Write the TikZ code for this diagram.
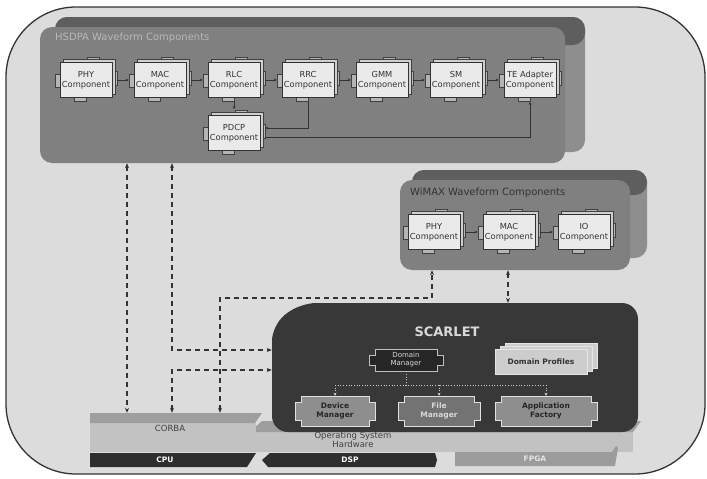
\documentclass[tikz,border=0pt]{standalone}
\usepackage{fontspec}
\setmainfont{DejaVu Sans}
\usetikzlibrary{arrows.meta}
\definecolor{cout}{HTML}{DCDCDC}
\definecolor{cwfront}{HTML}{808080}
\definecolor{cwback}{HTML}{8E8E8E}
\definecolor{cwtop}{HTML}{5E5E5E}
\definecolor{ccomp}{HTML}{EAEAEA}
\definecolor{ccompbk}{HTML}{CFCFCF}
\definecolor{ctab}{HTML}{B5B5B5}
\definecolor{cscar}{HTML}{383838}
\definecolor{cslab}{HTML}{C2C2C2}
\definecolor{cslabtop}{HTML}{9E9E9E}
\definecolor{chw}{HTML}{2E2E2E}
\definecolor{cfpga}{HTML}{9C9C9C}
\definecolor{cmgr}{HTML}{8E8E8E}
\definecolor{cprof}{HTML}{CDCDCD}
\newcommand\compbox[4]{%
  \begin{scope}[shift={(#2,#3)}]
    \filldraw[comptab] (-31,-6) rectangle (-25,7);
    \filldraw[comptab] (25,-9) rectangle (31,5);
    \filldraw[comptab] (1,-23) rectangle (13,-17);
    \filldraw[comptab] (-12,17) rectangle (0,21);
    \filldraw[compbk] (-23,-21) rectangle (29,14);
    \node[compnode] (#1) at (0,0) {#4};
  \end{scope}}
\newcommand\mgrbox[8]{%
  \begin{scope}[shift={(#2,#3)}]
    \path[#6] ({-#4+6},-#5) -- ({#4-6},-#5) -- ({#4-6},{-#5+6}) -- (#4,{-#5+6}) -- (#4,{#5-6}) -- ({#4-6},{#5-6}) -- ({#4-6},#5) -- ({-#4+6},#5) -- ({-#4+6},{#5-6}) -- (-#4,{#5-6}) -- (-#4,{-#5+6}) -- ({-#4+6},{-#5+6}) -- cycle;
    \node[minimum width={2*#4}, minimum height={2*#5}, inner sep=0pt, align=center, #7] (#1) at (0,0) {#8};
  \end{scope}}
\begin{document}
\begin{tikzpicture}[x=1pt,y=-1pt,
  >={Stealth[length=5pt,width=4pt]},
  dashconn/.style={draw=black!80,line width=1.1pt,dash pattern=on 5pt off 4pt},
  thinconn/.style={draw=black!80,line width=0.6pt,-{Stealth[length=3pt,width=3pt]}},
  busconn/.style={draw=white!80!black,line width=0.7pt,dotted},
  compnode/.style={draw=black!80,line width=0.7pt,fill=ccomp,minimum width=52pt,minimum height=35pt,inner sep=0pt,align=center,font=\fontsize{8.3}{10}\selectfont,text=black!80},
  comptab/.style={draw=black!75,line width=0.5pt,fill=ctab},
  compbk/.style={draw=black!75,line width=0.5pt,fill=ccompbk},
  wftitle/.style={font=\fontsize{10}{12}\selectfont,anchor=west,inner sep=0pt},
  hwtxt/.style={font=\fontsize{7.5}{9}\selectfont\bfseries,text=white,inner sep=0pt},
  slabtxt/.style={font=\fontsize{8.5}{10}\selectfont,text=black!75,inner sep=0pt,align=center}
]
\useasboundingbox (0,0) rectangle (707,479);
\fill[white] (0,0) rectangle (707,479);
% outer panel
\filldraw[fill=cout,draw=black!80,line width=1.3pt,rounded corners=70] (6,7) rectangle (705,474);

% HSDPA container
\fill[cwback,rounded corners=12] (55,17) rectangle (585,152);
\fill[cwtop,rounded corners=12] (55,17) rectangle (585,45);
\node[fill=cwfront,rounded corners=12,minimum width=525pt,minimum height=136pt,inner sep=0pt] (hsdpa) at (302.5,95) {};
\node[wftitle,text=white!72!black] (hsdpatitle) at (55,38) {HSDPA Waveform Components};

% WiMAX container
\fill[cwback,rounded corners=12] (412,170) rectangle (647,258);
\fill[cwtop,rounded corners=12] (412,170) rectangle (647,195);
\node[fill=cwfront,rounded corners=12,minimum width=230pt,minimum height=90pt,inner sep=0pt] (wimax) at (515,225) {};
\node[wftitle,text=black!80] (wimaxtitle) at (410,193) {WiMAX Waveform Components};

% Platform layers
\fill[cslab] (255,430) rectangle (633,452);
\fill[cslabtop] (250,432) -- (262,421) -- (641,421) -- (633,432) -- cycle;
\node[minimum width=172pt,minimum height=39pt,inner sep=0pt] (corba) at (176,432.5) {};
\fill[cslab] (90,423) rectangle (256,452);
\fill[cslabtop] (90,413) -- (262,413) -- (255,423) -- (90,423) -- cycle;
\node[slabtxt] (corbatxt) at (170,428) {CORBA};
\node[slabtxt] (ostxt) at (353,440) {Operating System\\[-1.5pt]Hardware};
\fill[chw] (90,453) -- (256,453) -- (247,467) -- (90,467) -- cycle;
\fill[chw] (270,453) -- (435,453) -- (437,460) -- (435,467) -- (268,467) -- (262,460) -- cycle;
\fill[cfpga] (455,452) -- (612,452) -- (616,446) -- (618,448) -- (615,466) -- (455,466) -- cycle;
\node[hwtxt] (cpu) at (165,460) {CPU};
\node[hwtxt] (dsp) at (350,460) {DSP};
\node[hwtxt,text=white!90!black] (fpga) at (535,459) {FPGA};

% SCARLET
\fill[cscar,rounded corners=16] (300,303) -- (638,303) -- (638,432) -- (272,432) -- (272,325) -- cycle;
\node[minimum width=366pt,minimum height=129pt,inner sep=0pt] (scarlet) at (455,367.5) {};
\node[font=\fontsize{13}{15}\selectfont\bfseries,text=white!85!black] (scarlettitle) at (447,332) {SCARLET};

% Domain profiles
\filldraw[fill=cprof,draw=white!90!black,line width=0.8pt] (505,343) rectangle (597,368);
\filldraw[fill=cprof,draw=white!90!black,line width=0.8pt] (500,346) rectangle (592,371);
\filldraw[fill=cprof,draw=white!90!black,line width=0.8pt] (495,349) rectangle (587,374);
\node[font=\fontsize{7.5}{9}\selectfont\bfseries,text=black!80] (profiles) at (541,361.5) {Domain Profiles};

% managers
\mgrbox{dm}{406}{360}{37}{11}{fill=black!85,draw=white!75!black,line width=0.8pt}{font=\fontsize{7}{8}\selectfont,text=white!85!black}{Domain\\Manager}
\mgrbox{devm}{335}{411}{40}{15}{fill=cmgr,draw=white!88!black,line width=1pt}{font=\fontsize{7.5}{9}\selectfont\bfseries,text=black!85}{Device\\Manager}
\mgrbox{filem}{439}{411}{41}{15}{fill=black!55,draw=white!88!black,line width=1pt}{font=\fontsize{7.5}{9}\selectfont\bfseries,text=white!85!black}{File\\Manager}
\mgrbox{appf}{546}{411}{51}{15}{fill=cmgr,draw=white!88!black,line width=1pt}{font=\fontsize{7.5}{9}\selectfont\bfseries,text=black!85}{Application\\Factory}
\coordinate (bus) at (0,385);
\draw[busconn] (dm.south) -- (dm.south |- bus);
\draw[busconn] (devm.north |- bus) -- (appf.north |- bus);
\draw[busconn,-{Stealth[length=3pt,width=3pt]}] (devm.north |- bus) -- (devm.north);
\draw[busconn,-{Stealth[length=3pt,width=3pt]}] (filem.north |- bus) -- (filem.north);
\draw[busconn,-{Stealth[length=3pt,width=3pt]}] (appf.north |- bus) -- (appf.north);

% HSDPA components
\compbox{phy}{86}{80}{PHY\\Component}
\compbox{mac}{160}{80}{MAC\\Component}
\compbox{rlc}{234}{80}{RLC\\Component}
\compbox{rrc}{308}{80}{RRC\\Component}
\compbox{gmm}{382}{80}{GMM\\Component}
\compbox{sm}{456}{80}{SM\\Component}
\compbox{te}{530}{80}{TE Adapter\\Component}
\compbox{pdcp}{234}{133}{PDCP\\Component}
\draw[thinconn] ([xshift=5pt]phy.east) -- ([xshift=-5pt]mac.west);
\draw[thinconn] ([xshift=5pt]mac.east) -- ([xshift=-5pt]rlc.west);
\draw[thinconn] ([xshift=5pt]rlc.east) -- ([xshift=-5pt]rrc.west);
\draw[thinconn] ([xshift=5pt]rrc.east) -- ([xshift=-5pt]gmm.west);
\draw[thinconn] ([xshift=5pt]gmm.east) -- ([xshift=-5pt]sm.west);
\draw[thinconn] ([xshift=5pt]sm.east) -- ([xshift=-5pt]te.west);
\draw[thinconn] ([yshift=-4pt]rlc.south) -- ([yshift=6pt]pdcp.north);
\draw[thinconn] ([yshift=-4pt]rrc.south) |- ([xshift=5pt,yshift=5pt]pdcp.east);
\draw[thinconn] ([xshift=5pt,yshift=-4pt]pdcp.east) -| ([yshift=-4pt]te.south);

% WiMAX components
\compbox{wphy}{434}{232}{PHY\\Component}
\compbox{wmac}{509}{232}{MAC\\Component}
\compbox{wio}{584}{232}{IO\\Component}
\draw[thinconn] ([xshift=5pt]wphy.east) -- ([xshift=-5pt]wmac.west);
\draw[thinconn] ([xshift=5pt]wmac.east) -- ([xshift=-5pt]wio.west);

% dashed interconnects
\coordinate (xa) at (127,0);
\coordinate (xb) at (172,0);
\coordinate (xc) at (220,0);
\coordinate (xd) at (432,0);
\coordinate (xe) at (508,0);
\coordinate (ya) at (0,298);
\coordinate (yb) at (0,350);
\coordinate (yc) at (0,370);
\draw[dashconn,<->] (xa |- hsdpa.south) -- (xa |- corba.north);
\draw[dashconn,<->] (xb |- hsdpa.south) |- (scarlet.west |- yb);
\draw[dashconn,<->] (xb |- corba.north) |- (scarlet.west |- yc);
\draw[dashconn,<->] (xc |- corba.north) -- (xc |- ya) -- (xd |- ya) -- (xd |- wimax.south);
\draw[dashconn,<->] (xe |- wimax.south) -- (xe |- scarlet.north);
\end{tikzpicture}
\end{document}
